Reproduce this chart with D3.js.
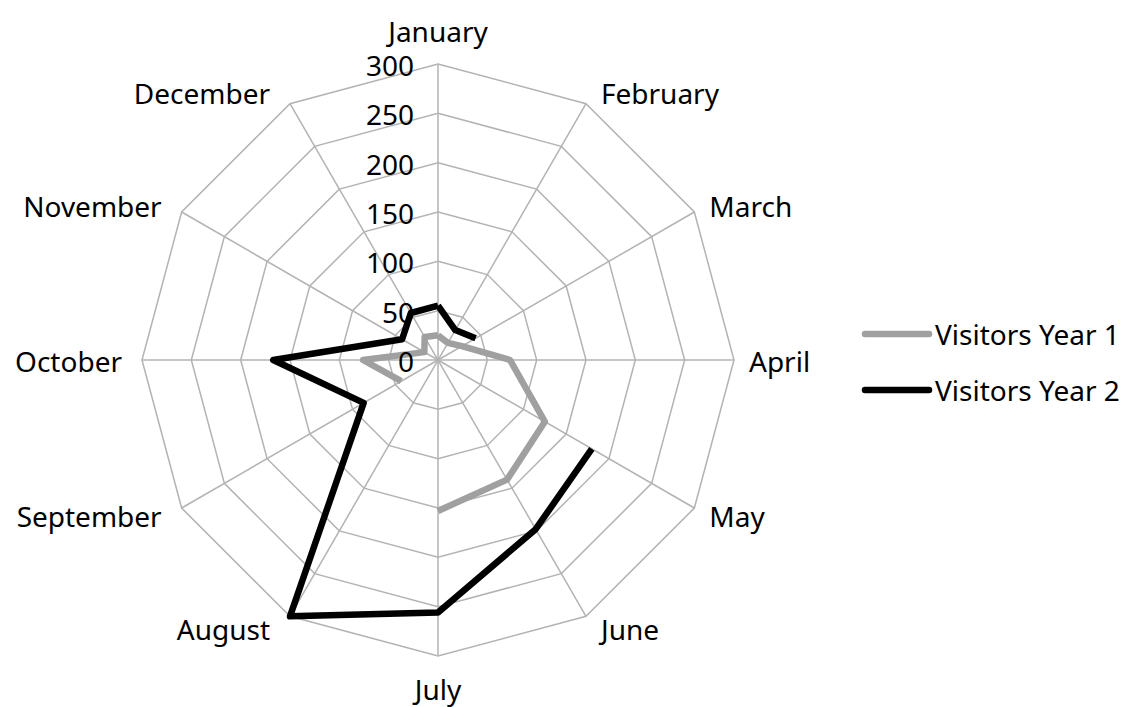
<!DOCTYPE html>
<html>
<head>
<meta charset="utf-8">
<script src="https://cdn.jsdelivr.net/npm/d3@7"></script>
<style>
  body { margin: 0; background: #fff; }
  text { font-family: "Noto Sans", "Open Sans", sans-serif; fill: #000; }
</style>
</head>
<body>
<div id="chart"></div>
<script>
const months = ['January', 'February', 'March', 'April', 'May', 'June',
  'July', 'August', 'September', 'October', 'November', 'December'];
const visitorsYear1 = [25, 20, 28, 73, 125, 140, 153, null, 43, 76, 16, 27];
const visitorsYear2 = [55, 35, 44, null, 180, 198, 256, 300, 87, 167, 42, 55];
const ticks = [0, 50, 100, 150, 200, 250, 300];
const seriesNames = ['Visitors Year 1', 'Visitors Year 2'];
const seriesColors = ['#a0a0a0', '#000000'];

const width = 1122;
const height = 707;
const cx = 438;
const cy = 360;
const radius = 296;
const fontSize = '28px';

const svg = d3.select('#chart')
  .append('svg')
    .attr('width', width)
    .attr('height', height);

const g = svg.append('g')
    .attr('transform', `translate(${cx}, ${cy})`);

const angle = d3.scaleLinear()
  .domain([0, months.length])
  .range([0, 2 * Math.PI]);

const r = d3.scaleLinear()
  .domain([0, 300])
  .range([0, radius]);

const px = (i, v) => Math.sin(angle(i)) * r(v);
const py = (i, v) => -Math.cos(angle(i)) * r(v);

// grid rings
g.selectAll('.ring')
  .data(ticks.slice(1))
  .join('polygon')
    .attr('fill', 'none')
    .attr('stroke', '#b3b3b3')
    .attr('stroke-width', 1.5)
    .attr('points', t => months.map((m, i) => `${px(i, t)},${py(i, t)}`).join(' '));

// spokes
g.selectAll('.spoke')
  .data(months)
  .join('line')
    .attr('stroke', '#b3b3b3')
    .attr('stroke-width', 1.5)
    .attr('x1', 0).attr('y1', 0)
    .attr('x2', (m, i) => px(i, 300))
    .attr('y2', (m, i) => py(i, 300));

// series lines, broken where a value is missing
const line = d3.lineRadial()
  .defined(d => d.v != null)
  .angle(d => angle(d.i))
  .radius(d => r(d.v));

[visitorsYear1, visitorsYear2].forEach((values, s) => {
  const pts = values.map((v, i) => ({ i, v }));
  pts.push({ i: values.length, v: values[0] });
  g.append('path')
      .attr('d', line(pts))
      .attr('fill', 'none')
      .attr('stroke', seriesColors[s])
      .attr('stroke-width', 6.5)
      .attr('stroke-linejoin', 'round');
});

// value axis labels
g.selectAll('.tick')
  .data(ticks)
  .join('text')
    .attr('x', -24)
    .attr('y', t => -r(t) + 1)
    .attr('text-anchor', 'end')
    .attr('dominant-baseline', 'central')
    .style('font-size', fontSize)
    .text(t => t);

// category labels
g.selectAll('.month')
  .data(months)
  .join('text')
    .style('font-size', fontSize)
    .attr('dominant-baseline', 'central')
    .attr('text-anchor', (m, i) => {
      const s = Math.sin(angle(i));
      return Math.abs(s) < 0.01 ? 'middle' : (s > 0 ? 'start' : 'end');
    })
    .attr('x', (m, i) => {
      const s = Math.sin(angle(i));
      return px(i, 300) + (Math.abs(s) < 0.01 ? 0 : (s > 0 ? 15 : -20));
    })
    .attr('y', (m, i) => {
      const c = Math.cos(angle(i));
      const s = Math.sin(angle(i));
      if (Math.abs(s) < 0.01) return py(i, 300) - c * 33;
      return py(i, 300) - c * 14 + 1;
    })
    .text(m => m);

// legend
const legend = svg.append('g')
    .attr('transform', 'translate(865, 334)');

seriesNames.forEach((name, s) => {
  const row = legend.append('g')
      .attr('transform', `translate(0, ${s * 56})`);
  row.append('line')
      .attr('x1', 0).attr('x2', 64)
      .attr('stroke', seriesColors[s])
      .attr('stroke-width', 6.5)
      .attr('stroke-linecap', 'round');
  row.append('text')
      .attr('x', 70)
      .attr('dominant-baseline', 'central')
      .style('font-size', fontSize)
      .text(name);
});
</script>
</body>
</html>
